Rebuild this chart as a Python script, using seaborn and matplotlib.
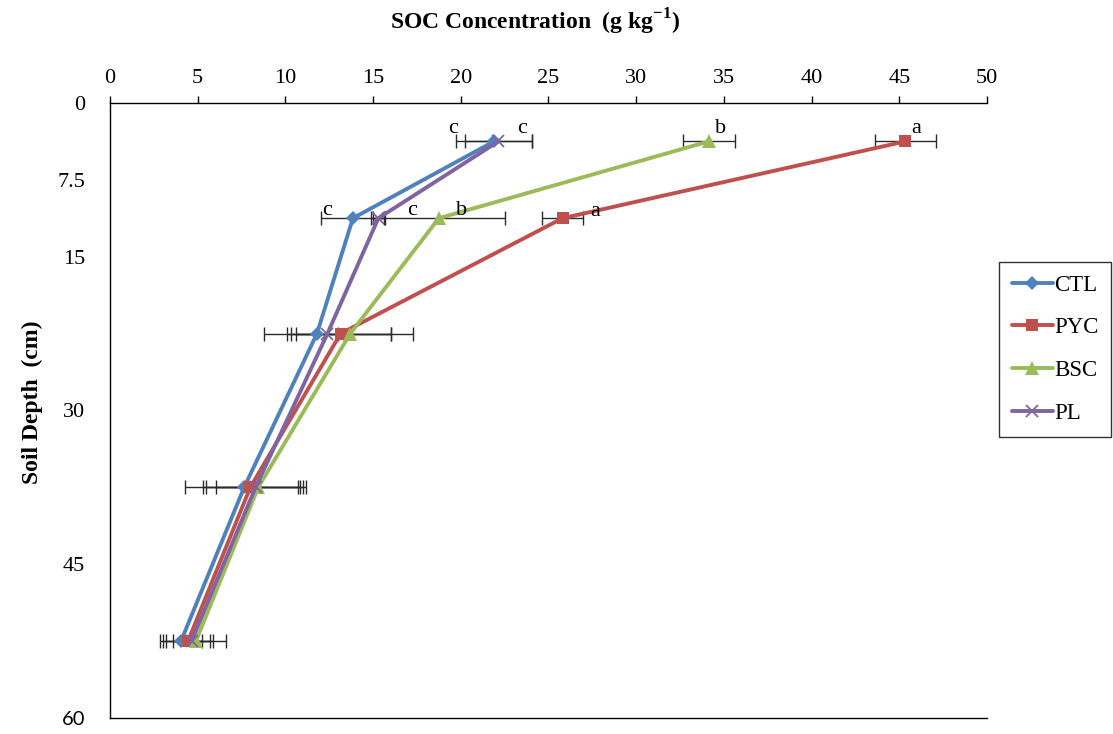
import matplotlib
matplotlib.use("Agg")
import matplotlib.pyplot as plt
from matplotlib.lines import Line2D
import seaborn as sns
import pandas as pd

# Soil depth midpoints (cm) and SOC concentration (g kg-1) per treatment
depths = [3.75, 11.25, 22.5, 37.5, 52.5]
treatments = ["CTL", "PYC", "BSC", "PL"]
ctl = [21.9, 13.85, 11.8, 7.65, 4.05]
pyc = [45.35, 25.8, 13.15, 8.0, 4.45]
bsc = [34.15, 18.75, 13.7, 8.45, 4.9]
pl = [22.15, 15.3, 12.4, 8.3, 4.65]
ctl_err = [2.15, 1.8, 1.2, 3.35, 1.2]
pyc_err = [1.75, 1.15, 2.85, 2.7, 1.4]
bsc_err = [1.5, 3.75, 3.6, 2.4, 1.7]
pl_err = [1.9, 0.4, 3.6, 2.85, 1.05]
# Significance letters for the top two layers
letters = {
    "CTL": ["c", "c"],
    "PYC": ["a", "a"],
    "BSC": ["b", "b"],
    "PL": ["c", "c"],
}
x_ticks = [0, 5, 10, 15, 20, 25, 30, 35, 40, 45, 50]
y_ticks = [0, 7.5, 15, 30, 45, 60]
y_tick_labels = ["0", "7.5", "15", "30", "45", "60"]

values = {"CTL": ctl, "PYC": pyc, "BSC": bsc, "PL": pl}
errors = {"CTL": ctl_err, "PYC": pyc_err, "BSC": bsc_err, "PL": pl_err}

colors = {"CTL": "#4F81BD", "PYC": "#C0504D", "BSC": "#9BBB59", "PL": "#8064A2"}
markers = {"CTL": "D", "PYC": "s", "BSC": "^", "PL": "x"}
msizes = {"CTL": 7, "PYC": 9, "BSC": 9.5, "PL": 8.5}

sns.set_theme(style="white")
plt.rcParams["font.family"] = ["Liberation Serif", "DejaVu Serif"]
plt.rcParams["mathtext.fontset"] = "custom"
plt.rcParams["mathtext.rm"] = "Liberation Serif"
plt.rcParams["mathtext.bf"] = "Liberation Serif:bold"
for key in ["text.color", "axes.labelcolor", "xtick.color", "ytick.color"]:
    plt.rcParams[key] = "black"

fig = plt.figure(figsize=(11.13, 7.34), dpi=100)
ax = fig.add_axes([0.0988, 0.0218, 0.788, 0.838])

# error bars first so lines sit above them
for t in treatments:
    ax.errorbar(values[t], depths, xerr=errors[t], fmt="none", ecolor="#2a2a2a",
                elinewidth=1.0, capsize=5, capthick=1.0, zorder=1)

for t in treatments:
    df = pd.DataFrame({"SOC": values[t], "Depth": depths})
    is_x = t == "PL"
    sns.lineplot(data=df, x="SOC", y="Depth", sort=False, orient="y",
                 color=colors[t], marker=markers[t], markersize=msizes[t],
                 markeredgewidth=1.3 if is_x else 0,
                 markeredgecolor=colors[t], linewidth=2.8, ax=ax, zorder=3)

# significance letters (offsets in data units from each point)
offsets = {
    "CTL": [(-2.35, -0.8), (-1.5, -0.3)],
    "PL": [(1.37, -0.8), (1.9, -0.3)],
    "BSC": [(0.64, -0.8), (1.3, -0.3)],
    "PYC": [(0.6, -0.8), (1.85, -0.2)],
}
for t in treatments:
    for i in range(2):
        dx, dy = offsets[t][i]
        ax.text(values[t][i] + dx, depths[i] + dy, letters[t][i],
                fontsize=16, ha="center", va="baseline", color="black")

ax.set_xlim(0, 50)
ax.set_ylim(60, 0)
ax.set_xticks(x_ticks)
ax.set_yticks(y_ticks)
ax.set_yticklabels(y_tick_labels)
ax.xaxis.tick_top()
ax.xaxis.set_label_position("top")
ax.tick_params(axis="both", direction="out", length=5, width=1, color="black",
               labelcolor="black", labelsize=16)
ax.tick_params(axis="x", pad=6)
ax.tick_params(axis="y", pad=13)
ax.spines["right"].set_visible(False)
for side in ["left", "top", "bottom"]:
    ax.spines[side].set_color("black")
    ax.spines[side].set_linewidth(1.0)

ax.set_xlabel("SOC Concentration  (g kg$^{\\mathbf{-1}}$)", fontsize=17,
              fontweight="bold", labelpad=28, color="black")
ax.set_ylabel("Soil Depth  (cm)", fontsize=17, fontweight="bold", labelpad=10,
              color="black")
ax.xaxis.label.set_position((0.485, 1))
ax.yaxis.label.set_position((0, 0.513))

# legend
handles = [Line2D([0], [0], color=colors[t], marker=markers[t], lw=2.8,
                  markersize=msizes[t], markeredgewidth=1.3 if t == "PL" else 0,
                  markeredgecolor=colors[t]) for t in treatments]
leg = fig.legend(handles, treatments, loc="upper left",
                 bbox_to_anchor=(999 / 1113, 1 - 262 / 734), frameon=True,
                 fancybox=False, fontsize=16.5, handlelength=1.8,
                 handletextpad=0.05, labelspacing=0.95, borderpad=0.55,
                 borderaxespad=0, edgecolor="black", labelcolor="black")
leg.get_frame().set_linewidth(1.0)

# bottom depth label is set in a sans face
fig.canvas.draw()
last = ax.yaxis.get_major_ticks()[-1].label1
last.set_fontfamily(["Lato", "DejaVu Sans"])
last.set_fontsize(14.5)

fig.savefig("out.png", dpi=100)
